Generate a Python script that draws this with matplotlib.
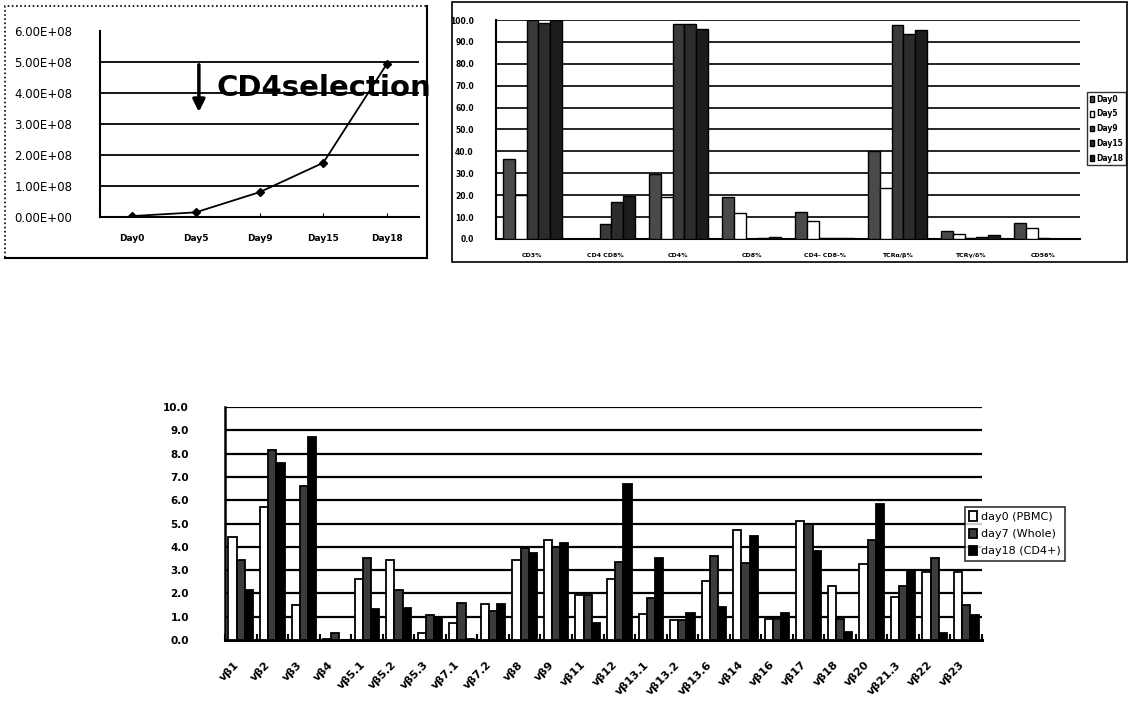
import matplotlib
matplotlib.use('Agg')
import matplotlib.pyplot as plt
import numpy as np
from matplotlib.patches import Rectangle
import matplotlib.transforms as mtransforms

plt.rcParams['font.family'] = ['DejaVu Sans']

# ---------------- Panel A: cell expansion ----------------
growth_days = ['Day0', 'Day5', 'Day9', 'Day15', 'Day18']
growth_cells = [3.0e6, 1.5e7, 8.0e7, 1.75e8, 4.95e8]
growth_yticks = [0, 1e8, 2e8, 3e8, 4e8, 5e8, 6e8]
growth_yticklabels = ['0.00E+00', '1.00E+08', '2.00E+08', '3.00E+08',
                      '4.00E+08', '5.00E+08', '6.00E+08']
annot_text = 'CD4selection'

# ---------------- Panel B: surface markers ----------------
marker_categories = ['CD3%', 'CD4 CD8%', 'CD4%', 'CD8%', 'CD4- CD8-%',
                     'TCRα/β%', 'TCRγ/δ%', 'CD56%']
marker_series = ['Day0', 'Day5', 'Day9', 'Day15', 'Day18']
marker_day0 = [36.5, 0.0, 29.5, 19.4, 12.5, 40.0, 3.7, 7.2]
marker_day5 = [20.0, 0.0, 19.0, 11.8, 8.2, 23.5, 2.3, 4.8]
marker_day9 = [100.0, 6.8, 98.0, 0.2, 0.5, 97.5, 0.3, 0.3]
marker_day15 = [98.5, 16.8, 98.0, 0.3, 0.5, 93.5, 1.0, 0.2]
marker_day18 = [100.0, 19.5, 96.0, 1.0, 0.3, 95.5, 2.0, 0.2]
marker_yticks = [0, 10, 20, 30, 40, 50, 60, 70, 80, 90, 100]

# ---------------- Panel C: TCR Vbeta repertoire ----------------
vb_labels = ['vβ1', 'vβ2', 'vβ3', 'vβ4', 'vβ5.1', 'vβ5.2', 'vβ5.3', 'vβ7.1',
             'vβ7.2', 'vβ8', 'vβ9', 'vβ11', 'vβ12', 'vβ13.1', 'vβ13.2',
             'vβ13.6', 'vβ14', 'vβ16', 'vβ17', 'vβ18', 'vβ20', 'vβ21.3',
             'vβ22', 'vβ23']
vb_series = ['day0 (PBMC)', 'day7 (Whole)', 'day18 (CD4+)']
vb_day0 = [4.4, 5.7, 1.5, 0.05, 2.6, 3.45, 0.3, 0.75, 1.55, 3.45, 4.3, 1.95,
           2.6, 1.1, 0.85, 2.55, 4.7, 0.9, 5.1, 2.3, 3.25, 1.85, 2.9, 2.9]
vb_day7 = [3.45, 8.15, 6.6, 0.3, 3.5, 2.15, 1.07, 1.57, 1.25, 3.95, 4.0, 1.95,
           3.35, 1.8, 0.85, 3.6, 3.3, 0.9, 5.0, 0.9, 4.3, 2.3, 3.5, 1.5]
vb_day18 = [2.15, 7.6, 8.7, 0.02, 1.32, 1.36, 0.95, 0.05, 1.55, 3.75, 4.15,
            0.75, 6.7, 3.5, 1.15, 1.4, 4.45, 1.14, 3.8, 0.33, 5.85, 2.95,
            0.28, 1.08]
vb_yticks = [0, 1, 2, 3, 4, 5, 6, 7, 8, 9, 10]

W, H = 1130, 705
fig = plt.figure(figsize=(W / 100, H / 100), dpi=100)


def box(l, t, r, b):
    return [l / W, 1 - b / H, (r - l) / W, (b - t) / H]


# ======== Panel A ========
axA = fig.add_axes(box(100, 31, 419, 217))
xA = np.arange(len(growth_days))
axA.plot(xA, growth_cells, color='black', lw=1.3, marker='D', ms=4)
axA.set_xlim(-0.5, len(growth_days) - 0.5)
axA.set_ylim(0, 6e8)
axA.set_yticks(growth_yticks)
axA.set_yticklabels(growth_yticklabels, fontsize=8.5)
axA.set_xticks(xA)
axA.set_xticklabels(growth_days, fontsize=6.5, fontweight='bold')
for v in growth_yticks[1:-1]:
    axA.axhline(v, color='black', lw=1.3, zorder=0)
for s in ['top', 'right']:
    axA.spines[s].set_visible(False)
axA.spines['left'].set_linewidth(1.5)
axA.spines['bottom'].set_linewidth(1.5)
axA.tick_params(axis='y', length=0, pad=20)
axA.tick_params(axis='x', length=3, direction='in', pad=12)
axA.annotate('', xy=(1.05, 3.3e8), xytext=(1.05, 5.0e8),
             arrowprops=dict(arrowstyle='-|>', color='black', lw=2.5,
                             mutation_scale=18))
axA.text(1.33, 4.15e8, annot_text, fontsize=21, fontweight='bold',
         va='center', ha='left', clip_on=False)
fig.add_artist(Rectangle((5 / W, 1 - 258 / H), (427 - 5) / W, (258 - 6) / H,
                         transform=fig.transFigure, fill=False,
                         edgecolor='black', lw=1.2, ls=(0, (1, 1.5))))
fig.add_artist(plt.Line2D([427 / W, 427 / W], [1 - 258 / H, 1 - 6 / H],
                          transform=fig.transFigure, color='black', lw=1.5))
fig.add_artist(plt.Line2D([5 / W, 427 / W], [1 - 258 / H, 1 - 258 / H],
                          transform=fig.transFigure, color='black', lw=1.5))

# ======== Panel B ========
axB = fig.add_axes(box(496, 20, 1080, 239))
xB = np.arange(len(marker_categories))
bw = 0.16
b_colors = ['#4a4a4a', 'white', '#3a3a3a', '#2c2c2c', '#1c1c1c']
b_data = [marker_day0, marker_day5, marker_day9, marker_day15, marker_day18]
for i, (vals, c, lab) in enumerate(zip(b_data, b_colors, marker_series)):
    axB.bar(xB + (i - 2) * bw, vals, width=bw, color=c, edgecolor='black',
            lw=1.0, label=lab, zorder=3)
axB.set_xlim(-0.5, len(marker_categories) - 0.5)
axB.set_ylim(0, 100)
axB.set_yticks(marker_yticks)
axB.set_yticklabels(['%.1f' % v for v in marker_yticks], fontsize=5.5,
                    fontweight='bold')
axB.set_xticks(xB)
axB.set_xticklabels(marker_categories, fontsize=4.5, fontweight='bold')
for v in marker_yticks[1:]:
    axB.axhline(v, color='black', lw=1.2, zorder=1)
for s in ['top', 'right']:
    axB.spines[s].set_visible(False)
axB.spines['left'].set_linewidth(1.5)
axB.spines['bottom'].set_linewidth(1.5)
axB.tick_params(axis='y', length=0, pad=16)
axB.tick_params(axis='x', length=0, pad=10)
legB = axB.legend(loc='upper left', bbox_to_anchor=(1087 / W, 1 - 92 / H),
                  bbox_transform=fig.transFigure, fontsize=5.5,
                  frameon=True, fancybox=False, edgecolor='black',
                  handlelength=0.6, handleheight=0.8, handletextpad=0.3,
                  borderpad=0.35, labelspacing=0.75, borderaxespad=0)
legB.get_frame().set_linewidth(1.0)
for t in legB.get_texts():
    t.set_fontweight('bold')
fig.add_artist(Rectangle((452 / W, 1 - 262 / H), (1127 - 452) / W,
                         (262 - 2) / H, transform=fig.transFigure,
                         fill=False, edgecolor='black', lw=1.2))

# ======== Panel C ========
axC = fig.add_axes(box(225, 407, 982, 640))
xC = np.arange(len(vb_labels))
cw = 0.26
c_colors = ['white', '#3c3c3c', 'black']
c_data = [vb_day0, vb_day7, vb_day18]
for i, (vals, c, lab) in enumerate(zip(c_data, c_colors, vb_series)):
    axC.bar(xC + (i - 1) * cw, vals, width=cw, color=c, edgecolor='black',
            lw=1.3, label=lab, zorder=3)
axC.set_xlim(-0.5, len(vb_labels) - 0.5)
axC.set_ylim(0, 10)
axC.set_yticks(vb_yticks)
axC.set_yticklabels(['%.1f' % v for v in vb_yticks], fontsize=7.5,
                    fontweight='bold')
axC.set_xticks(xC)
axC.set_xticklabels(vb_labels, fontsize=8, fontweight='bold', rotation=45,
                    ha='right', va='top')
offset = mtransforms.ScaledTranslation(-10 / 100, 0, fig.dpi_scale_trans)
for lbl in axC.get_xticklabels():
    lbl.set_transform(lbl.get_transform() + offset)
axC.set_xticks(np.arange(len(vb_labels) + 1) - 0.5, minor=True)
for v in vb_yticks[1:]:
    axC.axhline(v, color='black', lw=1.6, zorder=1)
for s in ['top', 'right']:
    axC.spines[s].set_visible(False)
axC.spines['left'].set_linewidth(1.8)
axC.spines['bottom'].set_linewidth(2.2)
axC.tick_params(axis='y', length=0, pad=26)
axC.tick_params(axis='x', which='major', length=0, pad=14)
axC.tick_params(axis='x', which='minor', length=4, width=1.5, direction='in')
legC = axC.legend(loc='upper left', bbox_to_anchor=(965 / W, 1 - 507 / H),
                  bbox_transform=fig.transFigure, fontsize=8,
                  frameon=True, fancybox=False, edgecolor='black',
                  handlelength=0.7, handleheight=0.9, handletextpad=0.3,
                  borderpad=0.4, labelspacing=0.6, borderaxespad=0)
legC.get_frame().set_linewidth(1.2)
legC.set_zorder(5)

fig.savefig('out.png', dpi=100, facecolor='white')
